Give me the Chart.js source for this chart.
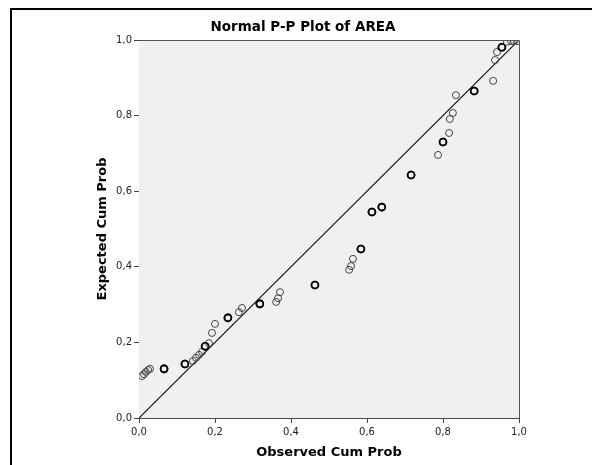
<!DOCTYPE html>
<html>
<head>
<meta charset="utf-8">
<script src="https://cdn.jsdelivr.net/npm/chart.js@4"></script>
<style>
  body { margin: 0; background: #fff; }
  #wrap { position: relative; width: 592px; height: 465px; overflow: hidden; }
  #frame { position: absolute; left: 10px; top: 8px; width: 700px; height: 600px;
           border-left: 2px solid #000; border-top: 2px solid #000; }
  canvas { position: absolute; left: 0; top: 0; }
</style>
</head>
<body>
<div id="wrap">
  <div id="frame"></div>
  <canvas id="ppChart" width="592" height="465"></canvas>
</div>
<script>
// observed vs expected cumulative probabilities (ties appear twice)
const observed = [0.008, 0.013, 0.018, 0.024, 0.029, 0.066, 0.066, 0.121, 0.121,
  0.142, 0.150, 0.158, 0.166, 0.174, 0.174, 0.184, 0.192, 0.200, 0.234, 0.234,
  0.263, 0.271, 0.318, 0.318, 0.361, 0.366, 0.371, 0.463, 0.463, 0.553, 0.558,
  0.563, 0.584, 0.584, 0.613, 0.613, 0.639, 0.639, 0.716, 0.716, 0.787, 0.800,
  0.800, 0.816, 0.818, 0.826, 0.834, 0.882, 0.882, 0.932, 0.937, 0.942, 0.955,
  0.955, 0.968, 0.979, 0.987, 0.995];
const expected = [0.111, 0.116, 0.122, 0.127, 0.130, 0.130, 0.130, 0.143, 0.143,
  0.151, 0.159, 0.167, 0.175, 0.190, 0.190, 0.198, 0.225, 0.249, 0.265, 0.265,
  0.280, 0.291, 0.302, 0.302, 0.307, 0.317, 0.333, 0.352, 0.352, 0.392, 0.402,
  0.421, 0.447, 0.447, 0.545, 0.545, 0.558, 0.558, 0.643, 0.643, 0.696, 0.730,
  0.730, 0.754, 0.791, 0.807, 0.854, 0.865, 0.865, 0.892, 0.947, 0.968, 0.981,
  0.981, 0.995, 0.997, 0.997, 0.997];
const refLine = [0, 1];
const axisTicks = [0, 0.2, 0.4, 0.6, 0.8, 1.0];

const points = observed.map((x, i) => ({ x: x, y: expected[i] }));
const tieCount = points.map(p => points.filter(q => q.x === p.x && q.y === p.y).length);

const fmt = v => Number(v).toFixed(1).replace('.', ',');

// grey plot background plus the top/right box edges
const plotBox = {
  id: 'plotBox',
  beforeDatasetsDraw(chart) {
    const { ctx, chartArea: a } = chart;
    ctx.save();
    ctx.fillStyle = '#f0f0f0';
    ctx.fillRect(a.left, a.top, a.right - a.left, a.bottom - a.top);
    ctx.restore();
  },
  afterDatasetsDraw(chart) {
    const { ctx, chartArea: a } = chart;
    ctx.save();
    ctx.strokeStyle = '#555';
    ctx.lineWidth = 1;
    ctx.beginPath();
    ctx.moveTo(a.left, a.top + 0.5);
    ctx.lineTo(a.right + 0.5, a.top + 0.5);
    ctx.lineTo(a.right + 0.5, a.bottom);
    ctx.stroke();
    ctx.restore();
  },
  afterDraw(chart) {
    const { ctx } = chart;
    ctx.save();
    ctx.fillStyle = '#000';
    ctx.font = 'bold 13.5px "DejaVu Sans"';
    ctx.textAlign = 'center';
    ctx.textBaseline = 'middle';
    ctx.fillText('Normal P-P Plot of AREA', 303, 27);
    ctx.restore();
  }
};

const tickFont = { family: '"DejaVu Sans"', size: 10 };
const titleFont = { family: '"DejaVu Sans"', size: 13, weight: 'bold' };

new Chart(document.getElementById('ppChart'), {
  type: 'scatter',
  data: {
    datasets: [
      {
        data: points,
        showLine: false,
        pointStyle: 'circle',
        pointRadius: 3.5,
        pointHoverRadius: 3.5,
        backgroundColor: 'rgba(0,0,0,0)',
        borderColor: ctx => tieCount[ctx.dataIndex] > 1 ? '#000' : '#444',
        pointBorderWidth: ctx => tieCount[ctx.dataIndex] > 1 ? 1.6 : 1
      },
      {
        type: 'line',
        data: refLine.map(v => ({ x: v, y: v })),
        borderColor: '#111',
        borderWidth: 1.2,
        pointRadius: 0,
        fill: false
      }
    ]
  },
  options: {
    responsive: false,
    animation: false,
    layout: { padding: { left: 90, right: 73, top: 40, bottom: 0 } },
    plugins: { legend: { display: false }, tooltip: { enabled: false }, title: { display: false } },
    scales: {
      x: {
        type: 'linear', min: 0, max: 1,
        afterFit: s => { s.height = 47; },
        afterBuildTicks: s => { s.ticks = axisTicks.map(v => ({ value: v })); },
        grid: { drawOnChartArea: false, drawTicks: true, tickLength: 5, color: '#444' },
        border: { display: true, color: '#444', width: 1 },
        ticks: { font: tickFont, color: '#222', padding: 3, maxRotation: 0, callback: fmt },
        title: { display: true, text: 'Observed Cum Prob', font: titleFont, color: '#000',
                 padding: { top: 0, bottom: 5 } }
      },
      y: {
        type: 'linear', min: 0, max: 1,
        afterFit: s => { s.width = 49; },
        afterBuildTicks: s => { s.ticks = axisTicks.map(v => ({ value: v })); },
        grid: { drawOnChartArea: false, drawTicks: true, tickLength: 5, color: '#444' },
        border: { display: true, color: '#444', width: 1 },
        ticks: { font: tickFont, color: '#222', padding: 2, callback: fmt },
        title: { display: true, text: 'Expected Cum Prob', font: titleFont, color: '#000',
                 padding: { top: 5, bottom: 0 } }
      }
    }
  },
  plugins: [plotBox]
});
</script>
</body>
</html>
